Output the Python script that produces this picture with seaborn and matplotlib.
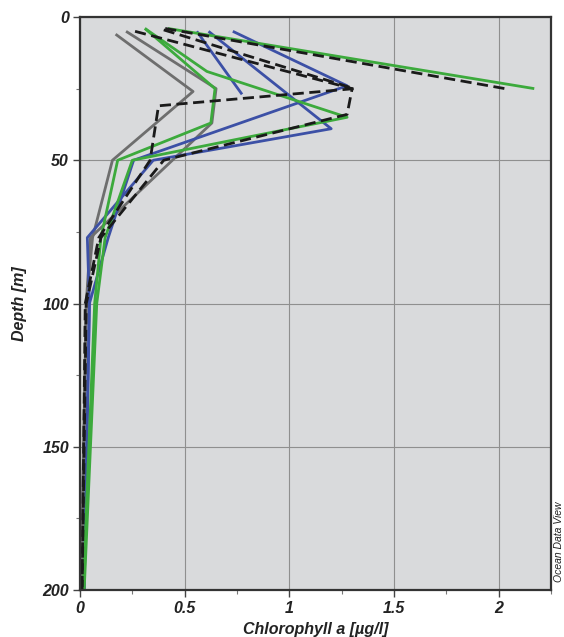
import matplotlib
matplotlib.use("Agg")
import matplotlib.pyplot as plt
import seaborn as sns
import pandas as pd
from matplotlib.ticker import MultipleLocator

# ---- data ----
depth_grey1 = [6, 26, 50, 77, 100, 200]
chl_grey1 = [0.17, 0.54, 0.155, 0.06, 0.03, 0.005]
depth_grey2 = [5, 25, 37, 77, 100, 200]
chl_grey2 = [0.22, 0.65, 0.63, 0.05, 0.03, 0.005]

depth_blue1 = [5, 27]
chl_blue1 = [0.558, 0.774]
depth_blue2 = [5, 39, 50, 77, 100, 200]
chl_blue2 = [0.614, 1.20, 0.35, 0.035, 0.045, 0.02]
depth_blue3 = [5, 24, 50, 77, 100, 200]
chl_blue3 = [0.73, 1.276, 0.256, 0.135, 0.045, 0.02]

depth_green1 = [4, 25, 37, 50, 77, 100, 200]
chl_green1 = [0.31, 0.645, 0.625, 0.18, 0.10, 0.07, 0.015]
depth_green2 = [4, 19, 35, 50, 77, 100, 200]
chl_green2 = [0.31, 0.606, 1.276, 0.25, 0.12, 0.08, 0.02]
depth_green3 = [4, 25]
chl_green3 = [0.42, 2.17]

depth_black1 = [5, 25, 34, 50, 77, 100, 200]
chl_black1 = [0.263, 1.30, 1.276, 0.40, 0.10, 0.03, 0.01]
depth_black2 = [4.5, 25, 31, 50, 77, 100, 200]
chl_black2 = [0.40, 1.31, 0.375, 0.335, 0.09, 0.025, 0.01]
depth_black3 = [4, 25]
chl_black3 = [0.407, 2.03]

x_ticks = [0, 0.5, 1, 1.5, 2]
x_tick_labels = ["0", "0.5", "1", "1.5", "2"]
y_ticks = [0, 50, 100, 150, 200]
y_tick_labels = ["0", "50", "100", "150", "200"]

profiles = [
    ("grey1", chl_grey1, depth_grey1, "#6e6e6e", "-"),
    ("grey2", chl_grey2, depth_grey2, "#6e6e6e", "-"),
    ("blue1", chl_blue1, depth_blue1, "#3c50a6", "-"),
    ("blue2", chl_blue2, depth_blue2, "#3c50a6", "-"),
    ("blue3", chl_blue3, depth_blue3, "#3c50a6", "-"),
    ("green1", chl_green1, depth_green1, "#3caa3c", "-"),
    ("green2", chl_green2, depth_green2, "#3caa3c", "-"),
    ("green3", chl_green3, depth_green3, "#3caa3c", "-"),
    ("black1", chl_black1, depth_black1, "#1a1a1a", "--"),
    ("black2", chl_black2, depth_black2, "#1a1a1a", "--"),
    ("black3", chl_black3, depth_black3, "#1a1a1a", "--"),
]

sns.set_style("white")
plt.rcParams["font.family"] = ["Liberation Sans", "DejaVu Sans"]

fig = plt.figure(figsize=(5.64, 6.37), dpi=100)
ax = fig.add_axes([80 / 564, 1 - 590 / 637, 471 / 564, 573 / 637])
ax.set_facecolor("#d9dadc")

for name, chl, dep, col, ls in profiles:
    df = pd.DataFrame({"chl": chl, "depth": dep})
    line_kw = dict(solid_capstyle="butt")
    if ls == "--":
        line_kw = dict(dashes=(4.0, 2.0), dash_capstyle="butt")
    sns.lineplot(data=df, x="chl", y="depth", sort=False, estimator=None,
                 color=col, linewidth=2.0, ax=ax, **line_kw)

ax.set_xlim(0, 2.25)
ax.set_ylim(200, 0)
ax.set_xticks(x_ticks)
ax.set_xticklabels(x_tick_labels)
ax.set_yticks(y_ticks)
ax.set_yticklabels(y_tick_labels)
ax.xaxis.set_minor_locator(MultipleLocator(0.25))
ax.yaxis.set_minor_locator(MultipleLocator(25))
ax.grid(True, which="major", color="#8f8f8f", linewidth=0.8)
ax.set_axisbelow(True)

ax.tick_params(which="major", direction="out", length=5, width=1, color="#444444",
               bottom=True, left=True, pad=3)
ax.tick_params(which="minor", direction="out", length=3, width=0.8, color="#777777",
               bottom=True, left=True)
for lab in ax.get_xticklabels() + ax.get_yticklabels():
    lab.set_fontweight("bold")
    lab.set_fontstyle("italic")
    lab.set_fontsize(11.5)
    lab.set_color("#222222")

for sp in ax.spines.values():
    sp.set_visible(True)
    sp.set_color("#333333")
    sp.set_linewidth(1.6)

ax.set_xlabel("Chlorophyll a [µg/l]", fontsize=11.5, fontweight="bold",
              fontstyle="italic", color="#222222", labelpad=4)
ax.set_ylabel("Depth [m]", fontsize=11.5, fontweight="bold",
              fontstyle="italic", color="#222222", labelpad=11)

fig.text(559 / 564, 1 - 542 / 637, "Ocean Data View", rotation=90,
         fontsize=7.5, fontstyle="italic", color="#222222",
         ha="center", va="center")

fig.savefig("out.png", dpi=100)
